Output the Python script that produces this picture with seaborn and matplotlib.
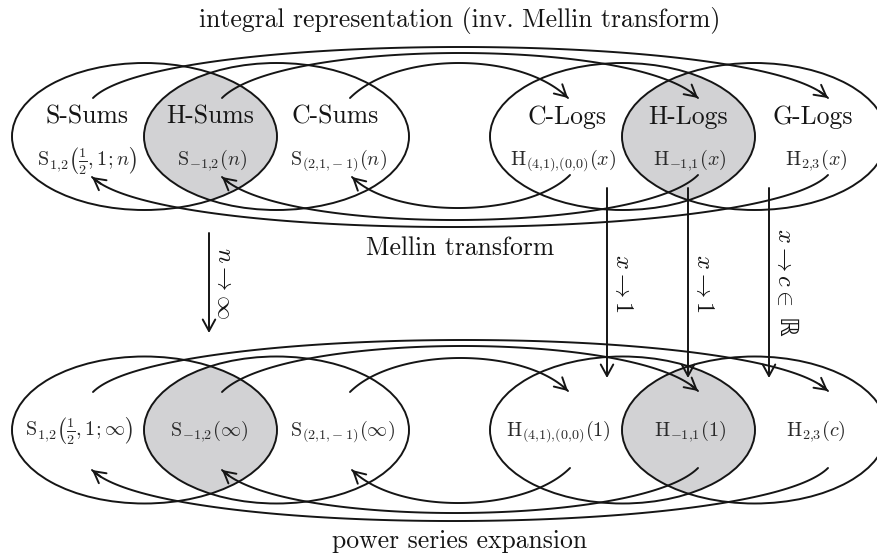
import numpy as np
import matplotlib
matplotlib.use("Agg")
import matplotlib.pyplot as plt
import seaborn as sns
import pandas as pd
from matplotlib.patches import Ellipse

# ---------------- data ----------------
class_names = ["S-Sums", "H-Sums", "C-Sums", "C-Logs", "H-Logs", "G-Logs"]
class_name_x = [87, 210, 335, 567, 688, 813]

top_formulas = [r"$\mathrm{S}_{1{,}2}\left(\frac{1}{2},1;n\right)$",
                r"$\mathrm{S}_{-1{,}2}(n)$",
                r"$\mathrm{S}_{(2{,}1{,}-1)}(n)$",
                r"$\mathrm{H}_{(4{,}1){,}(0{,}0)}(x)$",
                r"$\mathrm{H}_{-1{,}1}(x)$",
                r"$\mathrm{H}_{2{,}3}(x)$"]
top_formula_x = [87, 212, 338, 563, 690, 816]

bottom_formulas = [r"$\mathrm{S}_{1{,}2}\left(\frac{1}{2},1;\infty\right)$",
                   r"$\mathrm{S}_{-1{,}2}(\infty)$",
                   r"$\mathrm{S}_{(2{,}1{,}-1)}(\infty)$",
                   r"$\mathrm{H}_{(4{,}1){,}(0{,}0)}(1)$",
                   r"$\mathrm{H}_{-1{,}1}(1)$",
                   r"$\mathrm{H}_{2{,}3}(c)$"]
bottom_formula_x = [79, 209, 342, 558, 690, 816]

ellipse_cx = [144.5, 276.5, 622.5, 754.5]
row_cy = [136.5, 430.0]

# arcs: start x, end x, apex y
int_start_x = [93, 222, 350]
int_end_x = [828, 698, 568]
int_apex_top = [47, 53, 63]
int_apex_bot = [340, 346, 358]

mel_start_x = [828, 698, 570]
mel_end_x = [92, 222, 352]
mel_apex_top = [227, 220, 208]
mel_apex_bot = [521, 513, 503]

limit_x = [209, 607, 688, 769]
limit_labels = [r"$n\rightarrow\infty$", r"$x\rightarrow1$", r"$x\rightarrow1$",
                r"$x\rightarrow c\in$"]
limit_y0 = [233, 188, 188, 188]
limit_y1 = [333, 378, 378, 378]
reals_label = "ℝ"

title_top = "integral representation (inv. Mellin transform)"
title_mid = "Mellin transform"
title_bot = "power series expansion"

# ---------------- style ----------------
sns.set_theme(style="white")
plt.rcParams["mathtext.fontset"] = "cm"
plt.rcParams["font.family"] = ["cmr10", "DejaVu Serif"]
plt.rcParams["axes.unicode_minus"] = False

INK = "#151515"
GRAY = "#d2d2d4"
LW = 1.4

fig = plt.figure(figsize=(8.77, 5.53), dpi=100)
ax = fig.add_axes([0, 0, 1, 1])
ax.set_xlim(0, 877)
ax.set_ylim(553, 0)
ax.axis("off")

W, H = 265, 147

# lens fills and ellipses
for cy in row_cy:
    for a, b in [(0, 1), (2, 3)]:
        fill = Ellipse((ellipse_cx[a], cy), W, H, facecolor=GRAY, edgecolor="none", zorder=1)
        ax.add_patch(fill)
        clip = Ellipse((ellipse_cx[b], cy), W, H, transform=ax.transData)
        fill.set_clip_path(clip)
    for cx in ellipse_cx:
        ax.add_patch(Ellipse((cx, cy), W, H, facecolor="none", edgecolor=INK, lw=LW, zorder=2))


def bez(p0, p3, apex, n=120):
    x0, y0 = p0
    x3, y3 = p3
    base = (y0 + y3) / 2.0
    c = (apex - base) / 0.75
    d = abs(c) * np.sign(x3 - x0)
    p1 = np.array([x0 + d, y0 + c])
    p2 = np.array([x3 - d, y3 + c])
    t = np.linspace(0, 1, n)[:, None]
    P0, P3 = np.array(p0, float), np.array(p3, float)
    pts = (1 - t) ** 3 * P0 + 3 * (1 - t) ** 2 * t * p1 + 3 * (1 - t) * t ** 2 * p2 + t ** 3 * P3
    return pts


def arc(p0, p3, apex):
    pts = bez(p0, p3, apex)
    df = pd.DataFrame({"x": pts[:, 0], "y": pts[:, 1]})
    sns.lineplot(data=df, x="x", y="y", sort=False, estimator=None, color=INK,
                 lw=LW, ax=ax, zorder=3, legend=False)
    ax.annotate("", xy=tuple(pts[-1]), xytext=tuple(pts[-5]),
                arrowprops=dict(arrowstyle="->,head_length=0.55,head_width=0.3",
                                color=INK, lw=LW, shrinkA=0, shrinkB=0,
                                mutation_scale=15), zorder=3)


# top row arcs
for sx, ex, ap in zip(int_start_x, int_end_x, int_apex_top):
    arc((sx, 98), (ex, 98), ap)
for sx, ex, ap in zip(mel_start_x, mel_end_x, mel_apex_top):
    arc((sx, 175), (ex, 177), ap)
# bottom row arcs
for sx, ex, ap in zip(int_start_x, int_end_x, int_apex_bot):
    arc((sx, 392), (ex, 391), ap)
for sx, ex, ap in zip(mel_start_x, mel_end_x, mel_apex_bot):
    arc((sx, 468), (ex, 470), ap)

# vertical limit arrows
for i, (x, lab, y0, y1) in enumerate(zip(limit_x, limit_labels, limit_y0, limit_y1)):
    ax.annotate("", xy=(x, y1), xytext=(x, y0),
                arrowprops=dict(arrowstyle="->,head_length=0.55,head_width=0.3",
                                color=INK, lw=LW, shrinkA=0, shrinkB=0,
                                mutation_scale=15), zorder=4)
    if i < 3:
        ax.text(x + 15, 283, lab, rotation=-90, ha="center", va="center",
                fontsize=17.5, color=INK, zorder=5)
    else:
        ax.text(x + 15, 228, lab, rotation=-90, ha="center", va="top",
                fontsize=17.5, color=INK, zorder=5)
        ax.text(x + 16, 338, reals_label, rotation=-90, ha="center", va="bottom",
                fontsize=18, color=INK, zorder=5, family="DejaVu Sans")

# texts
for name, x in zip(class_names, class_name_x):
    ax.text(x, 117, name, ha="center", va="center", fontsize=18.5, color=INK, zorder=5)
for f, x in zip(top_formulas, top_formula_x):
    ax.text(x, 160, f, ha="center", va="center", fontsize=14.5, color="#2a2a2a", zorder=5)
for f, x in zip(bottom_formulas, bottom_formula_x):
    ax.text(x, 431, f, ha="center", va="center", fontsize=14.5, color="#2a2a2a", zorder=5)

ax.text(460, 20, title_top, ha="center", va="center", fontsize=18.5, color=INK)
ax.text(460, 248, title_mid, ha="center", va="center", fontsize=18.5, color=INK)
ax.text(460, 541, title_bot, ha="center", va="center", fontsize=18.5, color=INK)

fig.savefig("out.png", dpi=100)
